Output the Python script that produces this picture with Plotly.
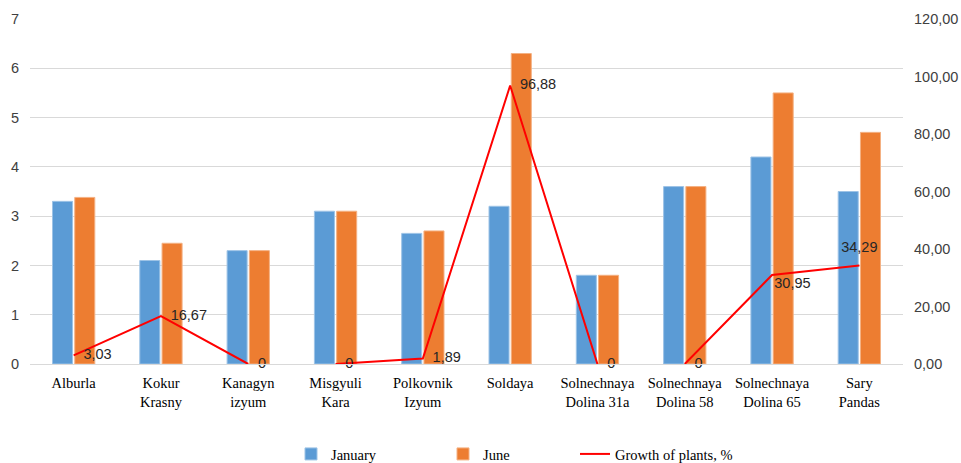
import plotly.graph_objects as go

categories = ["Alburla", "Kokur<br>Krasny", "Kanagyn<br>izyum", "Misgyuli<br>Kara",
              "Polkovnik<br>Izyum", "Soldaya", "Solnechnaya<br>Dolina 31a",
              "Solnechnaya<br>Dolina 58", "Solnechnaya<br>Dolina 65", "Sary<br>Pandas"]
january = [3.3, 2.1, 2.3, 3.1, 2.65, 3.2, 1.8, 3.6, 4.2, 3.5]
june = [3.38, 2.45, 2.3, 3.1, 2.7, 6.3, 1.8, 3.6, 5.5, 4.7]
growth = [3.03, 16.67, 0, 0, 1.89, 96.88, 0, 0, 30.95, 34.29]
left_ticks = [0, 1, 2, 3, 4, 5, 6, 7]
right_ticks = [0, 20, 40, 60, 80, 100, 120]

def fmt(v):
    return "0" if v == 0 else f"{v:.2f}".replace(".", ",")

growth_text = [fmt(v) for v in growth]
label_pos = ["middle right"] * (len(growth) - 2) + ["bottom right", "top center"]
label_marker = [14] * (len(growth) - 2) + [2, 14]

# line path: segments lying flat on the zero axis are hidden by the axis in the original
line_x, line_y = [], []
for i, (c, v) in enumerate(zip(categories, growth)):
    if i > 0 and v == 0 and growth[i - 1] == 0:
        line_x.append(None)
        line_y.append(None)
    line_x.append(c)
    line_y.append(v)

legend_font = dict(family="Liberation Serif, Times New Roman", size=14.5, color="#000000")

def legend_box(x_px):
    return dict(orientation="h", xref="container", yref="container",
                x=x_px / 961, xanchor="left", y=(463 - 454) / 463, yanchor="middle",
                font=legend_font, bgcolor="rgba(0,0,0,0)")

fig = go.Figure()
fig.add_trace(go.Bar(x=categories, y=january, name="January", legend="legend",
                     marker=dict(color="#5b9bd5", line=dict(color="#9dc3e6", width=1))))
fig.add_trace(go.Bar(x=categories, y=june, name="June", legend="legend2",
                     marker=dict(color="#ed7d31", line=dict(color="#f4b183", width=1))))
fig.add_trace(go.Scatter(x=line_x, y=line_y, name="Growth of plants, %", mode="lines",
                         connectgaps=False, legend="legend3",
                         line=dict(color="#ff0000", width=2), yaxis="y2"))
fig.add_trace(go.Scatter(x=categories, y=growth, mode="markers+text", text=growth_text,
                         textposition=label_pos, showlegend=False, yaxis="y2",
                         marker=dict(size=label_marker, opacity=0),
                         textfont=dict(family="Liberation Sans, Arial", size=14.5, color="#262626"),
                         cliponaxis=False, hoverinfo="skip"))

fig.update_layout(
    width=961, height=463,
    margin=dict(l=30, r=58, t=19, b=99, autoexpand=False),
    plot_bgcolor="white", paper_bgcolor="white",
    barmode="group", bargap=0.49, bargroupgap=0.1,
    font=dict(family="Liberation Sans, Arial", size=14.5, color="#404040"),
    xaxis=dict(range=[-0.5, len(categories) - 0.5],
               tickfont=dict(family="Liberation Serif, Times New Roman", size=14.5, color="#000000"),
               showline=True, linecolor="#d9d9d9", linewidth=1, ticks="", layer="above traces",
               ticklabelstandoff=6),
    yaxis=dict(range=[0, 7], tickvals=left_ticks, showgrid=True, gridcolor="#d9d9d9",
               zeroline=False, ticks="", tickfont=dict(size=14.5, color="#404040"),
               ticklabelstandoff=10),
    yaxis2=dict(range=[0, 120], tickvals=right_ticks,
                ticktext=[f"{v:.2f}".replace(".", ",") for v in right_ticks],
                overlaying="y", side="right", showgrid=False, zeroline=False, ticks="",
                tickfont=dict(size=14.5, color="#404040"), ticklabelstandoff=10),
    legend=legend_box(291),
    legend2=legend_box(443),
    legend3=legend_box(575),
    showlegend=True,
)

fig.write_html("out.html")
